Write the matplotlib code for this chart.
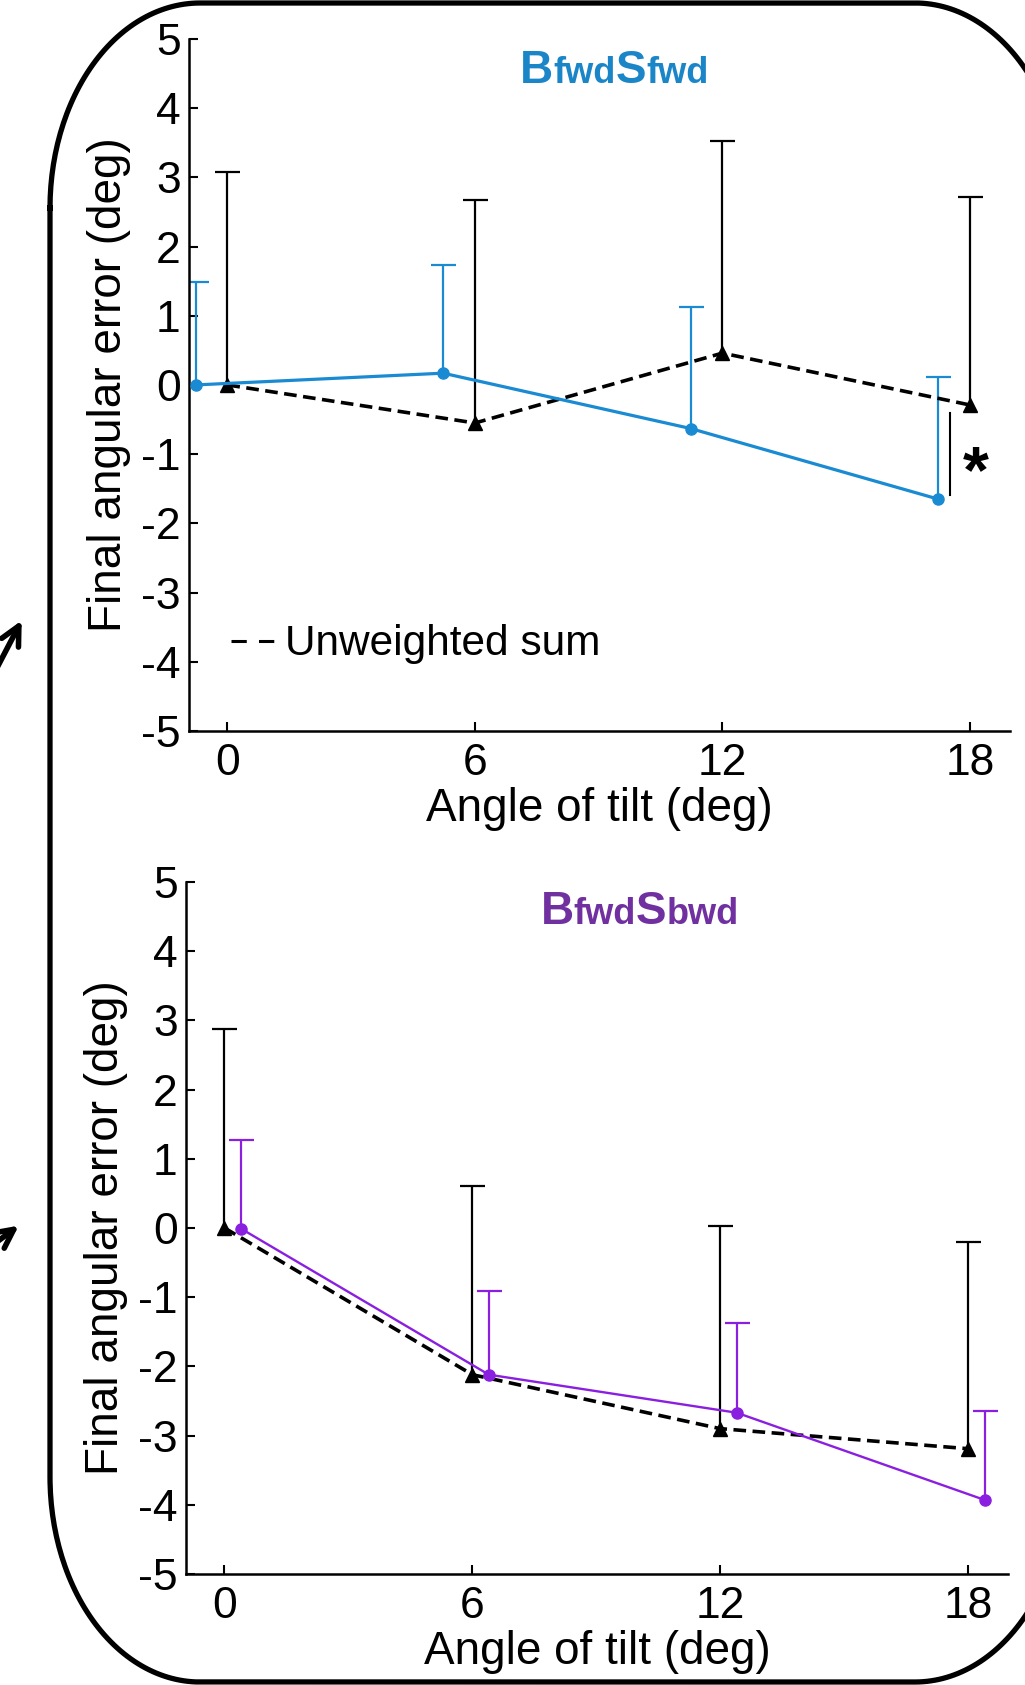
import matplotlib
matplotlib.use('Agg')
import matplotlib.pyplot as plt
from matplotlib.lines import Line2D
import numpy as np

plt.rcParams['font.family'] = ['Liberation Sans', 'DejaVu Sans']
plt.rcParams['axes.unicode_minus'] = False

# ---------------- data ----------------
angles = [0, 6, 12, 18]
x_ticks = [0, 6, 12, 18]
y_ticks = [-5, -4, -3, -2, -1, 0, 1, 2, 3, 4, 5]

# top panel: BfwdSfwd
fwd_mean = [0.00, 0.17, -0.63, -1.65]
fwd_top = [1.49, 1.74, 1.13, 0.11]
sum1_mean = [0.00, -0.55, 0.46, -0.29]
sum1_top = [3.07, 2.67, 3.52, 2.72]

# bottom panel: BfwdSbwd
bwd_mean = [-0.01, -2.12, -2.67, -3.93]
bwd_top = [1.27, -0.91, -1.37, -2.64]
sum2_mean = [0.00, -2.12, -2.90, -3.19]
sum2_top = [2.87, 0.60, 0.03, -0.20]

blue = '#1a8bd2'
blue_t = '#1a86c8'
purple = '#8a1fe0'
purple_t = '#7030a0'

fig = plt.figure(figsize=(10.25, 16.85), dpi=100)

# background overlay for rounded frame + arrows (pixel coords)
bg = fig.add_axes([0, 0, 1, 1])
bg.set_xlim(0, 1025)
bg.set_ylim(1685, 0)
bg.axis('off')


def rounded_frame(x0, y0, x1, y1, rx, ry, n=60):
    xs, ys = [], []
    for cx, cy, a0 in [(x0 + rx, y0 + ry, np.pi), (x1 - rx, y0 + ry, 1.5 * np.pi),
                       (x1 - rx, y1 - ry, 0.0), (x0 + rx, y1 - ry, 0.5 * np.pi)]:
        t = np.linspace(a0, a0 + 0.5 * np.pi, n)
        xs.extend(cx + rx * np.cos(t))
        ys.extend(cy + ry * np.sin(t))
    xs.append(xs[0])
    ys.append(ys[0])
    return xs, ys


fx, fy = rounded_frame(50, 3, 1065, 1682, 150, 205)
bg.plot(fx, fy, color='k', lw=3.8, clip_on=False, solid_joinstyle='round')
bg.annotate('', xy=(23, 618), xytext=(-12, 685),
            arrowprops=dict(arrowstyle='->', lw=4, color='k', mutation_scale=34))
bg.annotate('', xy=(21, 1224), xytext=(-10, 1247),
            arrowprops=dict(arrowstyle='->', lw=4, color='k', mutation_scale=34))


def style_axes(ax):
    ax.set_facecolor('none')
    ax.set_xlim(-0.93, 18.97)
    ax.set_ylim(-5, 5)
    ax.set_xticks(x_ticks)
    ax.set_yticks(y_ticks)
    for s in ['top', 'right']:
        ax.spines[s].set_visible(False)
    for s in ['left', 'bottom']:
        ax.spines[s].set_linewidth(1.8)
    ax.tick_params(direction='in', length=6.5, width=1.5, labelsize=32)
    ax.tick_params(axis='x', pad=9)
    ax.tick_params(axis='y', pad=6)
    ax.set_xlabel('Angle of tilt (deg)', fontsize=33)
    ax.set_ylabel('Final angular error (deg)', fontsize=33)
    ax.xaxis.set_label_coords(0.5, -0.081)
    ax.yaxis.set_label_coords(-0.071, 0.5)


def title_parts(ax, x, y, parts, color):
    prev = None
    for txt, fs in parts:
        if prev is None:
            prev = ax.text(x, y, txt, fontsize=fs, fontweight='bold',
                           color=color, ha='left', va='baseline')
            big = fs
        else:
            lift = 0.212 * (big - fs) if fs < big else 0.0
            if fs == big:
                lift = -0.212 * (big - last)
            prev = ax.annotate(txt, xy=(1, 0), xycoords=prev,
                               xytext=(0, lift), textcoords='offset points',
                               fontsize=fs, fontweight='bold', color=color,
                               ha='left', va='bottom')
        last = fs


def upper_bars(ax, x, m, t, color):
    ax.vlines(x, m, t, color=color, lw=1.6, zorder=2)
    ax.plot(x, t, ls='none', marker='_', ms=18, mew=1.6, color=color, zorder=2)


def panel(ax, mean, top, sm, stop, color, off, lw_c):
    x_c = np.array(angles) + off
    x_s = np.array(angles)
    upper_bars(ax, x_s, sm, stop, 'k')
    upper_bars(ax, x_c, mean, top, color)
    ax.plot(x_s, sm, color='k', ls=(0, (3.5, 1.8)), lw=2.6, marker='^',
            ms=9.5, mfc='k', mec='k', zorder=3)
    ax.plot(x_c, mean, color=color, lw=lw_c, marker='o', ms=8, mfc=color,
            mec=color, zorder=4)


# ---------------- top panel ----------------
ax1 = fig.add_axes([0.1844, 0.5662, 0.801, 0.4107])
style_axes(ax1)
panel(ax1, fwd_mean, fwd_top, sum1_mean, sum1_top, blue, -0.77, 2.3)
title_parts(ax1, 7.10, 4.36,
            [('B', 33), ('fwd', 26), ('S', 33), ('fwd', 26)], blue_t)
# significance bar
ax1.plot([17.51, 17.51], [-0.40, -1.59], color='k', lw=1.5)
ax1.text(18.14, -1.20, '*', fontsize=48, fontweight='bold', ha='center',
         va='center_baseline')
leg = ax1.legend(handles=[Line2D([], [], color='k', lw=2.2, ls=(0, (5, 4)))],
                 labels=['Unweighted sum'], frameon=False, fontsize=30.5,
                 loc='center left', bbox_to_anchor=(0.051, 0.125),
                 borderaxespad=0, borderpad=0, handlelength=1.02,
                 handletextpad=0.25)

# ---------------- bottom panel ----------------
ax2 = fig.add_axes([0.1815, 0.0659, 0.802, 0.4107])
style_axes(ax2)
panel(ax2, bwd_mean, bwd_top, sum2_mean, sum2_top, purple, 0.40, 1.7)
title_parts(ax2, 7.65, 4.39,
            [('B', 33), ('fwd', 26), ('S', 33), ('bwd', 26)], purple_t)

fig.savefig('out.png', dpi=100)
